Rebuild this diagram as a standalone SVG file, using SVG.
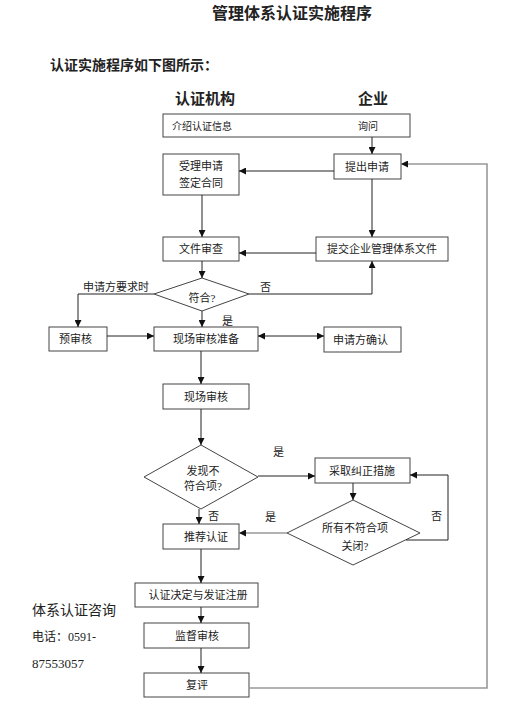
<svg xmlns="http://www.w3.org/2000/svg" width="510" height="704" viewBox="0 0 510 704">
<style>
text{font-family:"Liberation Serif","Noto Sans CJK SC",serif;fill:#222;}
.b{font-weight:bold;}
.t{font-size:11px;}
.m{text-anchor:middle;}
.box{fill:#fff;stroke:#444;stroke-width:1;}
.ln{fill:none;stroke:#222;stroke-width:1;}
.gl{fill:none;stroke:#999;stroke-width:1.6;}
</style>
<defs>
<marker id="a" viewBox="0 0 8 8" refX="8" refY="4" markerWidth="7" markerHeight="7" markerUnits="userSpaceOnUse" orient="auto-start-reverse">
<path d="M0,0 L8,4 L0,8 z" fill="#111"/>
</marker>
</defs>
<rect width="510" height="704" fill="#fff"/>
<text class="b m" x="292" y="19" style="font-size:16px">管理体系认证实施程序</text>
<text class="b" x="50" y="70" style="font-size:14px">认证实施程序如下图所示：</text>
<text class="b" x="175" y="104" style="font-size:15px">认证机构</text>
<text class="b" x="358" y="104" style="font-size:15px">企业</text>

<g id="n_info"><rect class="box" x="163" y="114" width="247" height="23"/>
<text class="t" x="172" y="130" style="font-size:10px">介绍认证信息</text>
<text class="t" x="358" y="130" style="font-size:10px">询问</text></g>
<g id="n_accept"><rect class="box" x="163" y="154" width="76" height="41"/>
<text class="t m" x="201" y="170">受理申请</text><text class="t m" x="201" y="187">签定合同</text></g>
<g id="n_apply"><rect class="box" x="334" y="154" width="67" height="25"/>
<text class="t m" x="367" y="171">提出申请</text></g>
<g id="n_review"><rect class="box" x="163" y="237" width="76" height="24"/>
<text class="t m" x="201" y="253">文件审查</text></g>
<g id="n_submit"><rect class="box" x="316" y="237" width="132" height="24"/>
<text class="t m" x="382" y="253">提交企业管理体系文件</text></g>
<g id="n_ok"><polygon class="box" points="202,278 249,294 202,311 154,294"/>
<text class="t m" x="202" y="302">符合?</text></g>
<g id="n_pre"><rect class="box" x="49" y="327" width="58" height="24"/>
<text class="t" x="59" y="343">预审核</text></g>
<g id="n_prep"><rect class="box" x="154" y="327" width="104" height="24"/>
<text class="t m" x="206" y="343">现场审核准备</text></g>
<g id="n_confirm"><rect class="box" x="324" y="327" width="77" height="25"/>
<text class="t" x="333" y="344">申请方确认</text></g>
<g id="n_audit"><rect class="box" x="163" y="384" width="86" height="25"/>
<text class="t m" x="206" y="401">现场审核</text></g>
<g id="n_found"><polygon class="box" points="201,445 258,477 201,509 144,477"/>
<text class="t m" x="203" y="475">发现不</text><text class="t m" x="203" y="490">符合项?</text></g>
<g id="n_correct"><rect class="box" x="315" y="458" width="95" height="25"/>
<text class="t m" x="362" y="475">采取纠正措施</text></g>
<g id="n_closed"><polygon class="box" points="353,500 420,533 353,565 287,533"/>
<text class="t m" x="355" y="532">所有不符合项</text><text class="t m" x="355" y="550">关闭?</text></g>
<g id="n_recommend"><rect class="box" x="163" y="524" width="76" height="25"/>
<text class="t m" x="206" y="541">推荐认证</text></g>
<g id="n_decide"><rect class="box" x="135" y="583" width="123" height="24"/>
<text class="t m" x="198" y="599">认证决定与发证注册</text></g>
<g id="n_super"><rect class="box" x="144" y="623" width="105" height="25"/>
<text class="t m" x="197" y="640">监督审核</text></g>
<g id="n_reeval"><rect class="box" x="144" y="673" width="105" height="24"/>
<text class="t m" x="197" y="689">复评</text></g>

<g id="connectors">
<path class="ln" d="M372,137 V154" marker-end="url(#a)"/>
<path class="ln" d="M334,171 H239" marker-end="url(#a)"/>
<path class="ln" d="M202,195 V237" marker-end="url(#a)"/>
<path class="ln" d="M372,179 V237" marker-end="url(#a)"/>
<path class="ln" d="M316,253 H239" marker-end="url(#a)"/>
<path class="ln" d="M202,261 V278" marker-end="url(#a)"/>
<path class="ln" d="M154,294 H78 V327" marker-end="url(#a)"/>
<path class="ln" d="M249,294 H372 V261" marker-end="url(#a)"/>
<path class="ln" d="M202,311 V327" marker-end="url(#a)"/>
<path class="ln" d="M107,336 H154" marker-end="url(#a)"/>
<path class="ln" d="M258,336 H324" marker-start="url(#a)" marker-end="url(#a)"/>
<path class="ln" d="M201,351 V384" marker-end="url(#a)"/>
<path class="ln" d="M201,409 V445" marker-end="url(#a)"/>
<path class="ln" d="M258,476 H315" marker-end="url(#a)"/>
<path class="ln" d="M353,483 V500" marker-end="url(#a)"/>
<path class="ln" d="M406,540 H448 V475 H410" marker-end="url(#a)"/>
<path class="gl" d="M287,533 H239" marker-end="url(#a)"/>
<path class="ln" d="M199,509 V524" marker-end="url(#a)"/>
<path class="ln" d="M201,549 V583" marker-end="url(#a)"/>
<path class="ln" d="M201,607 V623" marker-end="url(#a)"/>
<path class="ln" d="M201,648 V673" marker-end="url(#a)"/>
<path class="gl" d="M249,688 H487 V164 H401" marker-end="url(#a)"/>
</g>
<g id="labels">
<text class="t" x="83" y="291">申请方要求时</text>
<text class="t" x="260" y="291">否</text>
<text class="t" x="222" y="325">是</text>
<text class="t" x="273" y="456">是</text>
<text class="t" x="208" y="520">否</text>
<text class="t" x="265" y="521">是</text>
<text class="t" x="431" y="520">否</text>
</g>
<text x="32" y="615" style="font-size:14px">体系认证咨询</text>
<text x="32" y="641" style="font-size:12px">电话：0591-</text>
<text x="32" y="668" style="font-size:13px">87553057</text>
</svg>
